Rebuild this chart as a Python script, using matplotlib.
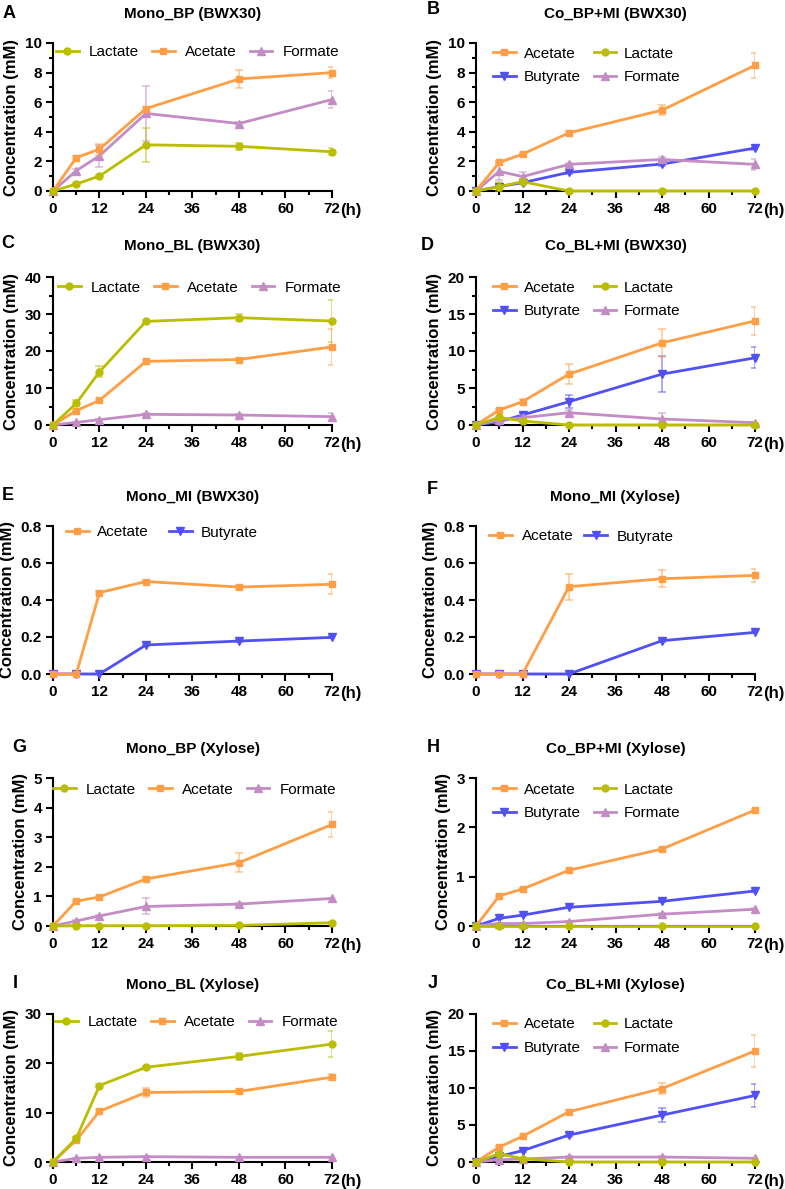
import matplotlib
matplotlib.use('Agg')
import matplotlib.pyplot as plt
from matplotlib.ticker import MultipleLocator

plt.rcParams['font.family'] = ['Liberation Sans', 'DejaVu Sans']

hours = [0, 6, 12, 24, 48, 72]

# A: Mono_BP (BWX30)
a_lactate = [0, 0.47, 1.01, 3.12, 3.02, 2.65]
a_lactate_err = [0, 0.08, 0.08, 1.17, 0.25, 0.25]
a_acetate = [0, 2.25, 2.83, 5.57, 7.57, 8.0]
a_acetate_err = [0, 0.1, 0.37, 0.1, 0.63, 0.38]
a_formate = [0, 1.37, 2.38, 5.24, 4.56, 6.18]
a_formate_err = [0, 0.15, 0.75, 1.84, 0.1, 0.58]

# B: Co_BP+MI (BWX30)
b_acetate = [0, 1.93, 2.49, 3.93, 5.46, 8.49]
b_acetate_err = [0, 0.1, 0.1, 0.15, 0.35, 0.84]
b_lactate = [0, 0.29, 0.63, 0, 0, 0]
b_lactate_err = [0, 0.3, 0.15, 0, 0, 0]
b_butyrate = [0, 0.3, 0.56, 1.26, 1.82, 2.9]
b_butyrate_err = [0, 0.1, 0.1, 0.1, 0.1, 0.1]
b_formate = [0, 1.33, 0.97, 1.8, 2.13, 1.8]
b_formate_err = [0, 0.6, 0.33, 0.1, 0.15, 0.35]

# C: Mono_BL (BWX30)
c_lactate = [0, 5.84, 14.4, 28.0, 29.0, 28.1]
c_lactate_err = [0, 0.8, 1.5, 0.3, 0.9, 5.6]
c_acetate = [0, 3.87, 6.65, 17.2, 17.7, 21.1]
c_acetate_err = [0, 0.3, 0.4, 0.5, 0.4, 4.8]
c_formate = [0, 0.7, 1.44, 2.88, 2.7, 2.25]
c_formate_err = [0, 0.1, 0.2, 0.3, 0.3, 1.0]

# D: Co_BL+MI (BWX30)
d_acetate = [0, 2.02, 3.15, 6.88, 11.1, 14.07]
d_acetate_err = [0, 0.2, 0.3, 1.4, 1.9, 1.9]
d_lactate = [0, 1.03, 0.54, 0, 0, 0]
d_lactate_err = [0, 0.1, 0.1, 0, 0, 0]
d_butyrate = [0, 0.45, 1.35, 3.15, 6.88, 9.08]
d_butyrate_err = [0, 0.1, 0.3, 0.85, 2.45, 1.4]
d_formate = [0, 0.67, 0.99, 1.66, 0.81, 0.31]
d_formate_err = [0, 0.1, 0.3, 0.4, 0.76, 0.1]

# E: Mono_MI (BWX30)
e_acetate = [0, 0, 0.44, 0.50, 0.47, 0.485]
e_acetate_err = [0, 0, 0.01, 0.01, 0.01, 0.055]
e_butyrate = [0, 0, 0, 0.157, 0.178, 0.198]
e_butyrate_err = [0, 0, 0, 0.005, 0.005, 0.005]

# F: Mono_MI (Xylose)
f_acetate = [0, 0, 0, 0.472, 0.515, 0.533]
f_acetate_err = [0, 0, 0, 0.07, 0.047, 0.035]
f_butyrate = [0, 0, 0, 0, 0.18, 0.225]
f_butyrate_err = [0, 0, 0, 0, 0.005, 0.005]

# G: Mono_BP (Xylose)
g_lactate = [0, 0.01, 0.01, 0.01, 0.02, 0.11]
g_lactate_err = [0, 0, 0, 0, 0, 0.02]
g_acetate = [0, 0.84, 0.98, 1.59, 2.14, 3.43]
g_acetate_err = [0, 0.03, 0.03, 0.08, 0.31, 0.43]
g_formate = [0, 0.17, 0.34, 0.66, 0.74, 0.93]
g_formate_err = [0, 0.02, 0.03, 0.27, 0.05, 0.03]

# H: Co_BP+MI (Xylose)
h_acetate = [0, 0.61, 0.75, 1.13, 1.56, 2.35]
h_acetate_err = [0, 0.02, 0.02, 0.02, 0.03, 0.03]
h_lactate = [0, 0, 0, 0, 0, 0]
h_lactate_err = [0, 0, 0, 0, 0, 0]
h_butyrate = [0, 0.155, 0.22, 0.38, 0.50, 0.71]
h_butyrate_err = [0, 0.01, 0.01, 0.01, 0.02, 0.02]
h_formate = [0, 0.05, 0.05, 0.09, 0.24, 0.34]
h_formate_err = [0, 0.01, 0.01, 0.01, 0.02, 0.02]

# I: Mono_BL (Xylose)
i_lactate = [0, 4.8, 15.5, 19.2, 21.4, 23.9]
i_lactate_err = [0, 0.3, 0.3, 0.3, 0.7, 2.7]
i_acetate = [0, 4.4, 10.3, 14.1, 14.3, 17.2]
i_acetate_err = [0, 0.3, 0.3, 0.9, 0.4, 0.6]
i_formate = [0, 0.75, 0.95, 1.08, 0.95, 0.95]
i_formate_err = [0, 0.05, 0.05, 0.05, 0.05, 0.05]

# J: Co_BL+MI (Xylose)
j_acetate = [0, 2.02, 3.46, 6.79, 9.93, 15.0]
j_acetate_err = [0, 0.2, 0.2, 0.2, 0.7, 2.1]
j_lactate = [0, 1.12, 0.45, 0, 0, 0]
j_lactate_err = [0, 0.1, 0.1, 0, 0, 0]
j_butyrate = [0, 0.76, 1.53, 3.64, 6.34, 8.99]
j_butyrate_err = [0, 0.1, 0.2, 0.2, 0.9, 1.6]
j_formate = [0, 0.3, 0.4, 0.67, 0.67, 0.5]
j_formate_err = [0, 0.1, 0.1, 0.2, 0.2, 0.1]

colors = {'Lactate': '#BABD00', 'Acetate': '#FF9E45',
          'Formate': '#C48CC4', 'Butyrate': '#5050F5'}
markers = {'Lactate': 'o', 'Acetate': 's', 'Formate': '^', 'Butyrate': 'v'}
msizes = {'Lactate': 5, 'Acetate': 5, 'Formate': 5.5, 'Butyrate': 5.5}
layer = {'Butyrate': 3, 'Formate': 4, 'Acetate': 5, 'Lactate': 6}

# letter, title, col, row, ymax, major, minor, series, ncol, legend (dx, dy px), colspacing, textpad
panels = [
    ('A', 'Mono_BP (BWX30)', 0, 0, 10, 2, 1,
     [('Lactate', a_lactate, a_lactate_err), ('Acetate', a_acetate, a_acetate_err),
      ('Formate', a_formate, a_formate_err)], 3, (3, 8), 0.85, 0.65),
    ('B', 'Co_BP+MI (BWX30)', 1, 0, 10, 2, 1,
     [('Acetate', b_acetate, b_acetate_err), ('Butyrate', b_butyrate, b_butyrate_err),
      ('Lactate', b_lactate, b_lactate_err), ('Formate', b_formate, b_formate_err)], 2, (17, 9), 0.85, 0.5),
    ('C', 'Mono_BL (BWX30)', 0, 1, 40, 10, 5,
     [('Lactate', c_lactate, c_lactate_err), ('Acetate', c_acetate, c_acetate_err),
      ('Formate', c_formate, c_formate_err)], 3, (5, 9), 0.85, 0.65),
    ('D', 'Co_BL+MI (BWX30)', 1, 1, 20, 5, 2.5,
     [('Acetate', d_acetate, d_acetate_err), ('Butyrate', d_butyrate, d_butyrate_err),
      ('Lactate', d_lactate, d_lactate_err), ('Formate', d_formate, d_formate_err)], 2, (17, 9), 0.85, 0.5),
    ('E', 'Mono_MI (BWX30)', 0, 2, 0.8, 0.2, None,
     [('Acetate', e_acetate, e_acetate_err), ('Butyrate', e_butyrate, e_butyrate_err)],
     2, (13, 5), 1.3, 0.55),
    ('F', 'Mono_MI (Xylose)', 1, 2, 0.8, 0.2, None,
     [('Acetate', f_acetate, f_acetate_err), ('Butyrate', f_butyrate, f_butyrate_err)],
     2, (13, 9), 0.7, 0.65),
    ('G', 'Mono_BP (Xylose)', 0, 3, 5, 1, None,
     [('Lactate', g_lactate, g_lactate_err), ('Acetate', g_acetate, g_acetate_err),
      ('Formate', g_formate, g_formate_err)], 3, (0, 10), 0.85, 0.65),
    ('H', 'Co_BP+MI (Xylose)', 1, 3, 3, 1, None,
     [('Acetate', h_acetate, h_acetate_err), ('Butyrate', h_butyrate, h_butyrate_err),
      ('Lactate', h_lactate, h_lactate_err), ('Formate', h_formate, h_formate_err)], 2, (17, 10), 0.85, 0.5),
    ('I', 'Mono_BL (Xylose)', 0, 4, 30, 10, None,
     [('Lactate', i_lactate, i_lactate_err), ('Acetate', i_acetate, i_acetate_err),
      ('Formate', i_formate, i_formate_err)], 3, (2, 7), 0.85, 0.65),
    ('J', 'Co_BL+MI (Xylose)', 1, 4, 20, 5, None,
     [('Acetate', j_acetate, j_acetate_err), ('Butyrate', j_butyrate, j_butyrate_err),
      ('Lactate', j_lactate, j_lactate_err), ('Formate', j_formate, j_formate_err)], 2, (17, 9), 0.85, 0.5),
]

W, H = 785, 1189
col_left = [53, 476]
row_top = [43, 277, 526, 778, 1014]
title_y = [14, 246, 497, 749, 985]
letter_pos = {'A': (3, 14), 'B': (427, 9), 'C': (1, 244), 'D': (421, 246), 'E': (2, 495),
              'F': (427, 489), 'G': (12, 747), 'H': (427, 747), 'I': (13, 984), 'J': (428, 984)}
ax_w, ax_h = 279, 148

fig = plt.figure(figsize=(W / 100, H / 100), dpi=100)

for letter, title, col, row, ymax, major, minor, series, ncol, (ldx, ldy), colsp, tpad in panels:
    x0, top = col_left[col], row_top[row]
    ax = fig.add_axes([x0 / W, 1 - (top + ax_h) / H, ax_w / W, ax_h / H])

    handles = {}
    for name, vals, errs in series:
        c = colors[name]
        ax.errorbar(hours, vals, yerr=errs, fmt='none', ecolor=c, alpha=0.6,
                    elinewidth=1.1, capsize=3, capthick=1.1, zorder=layer[name] - 0.5)
        ln, = ax.plot(hours, vals, color=c, lw=2, marker=markers[name],
                      ms=msizes[name], zorder=layer[name], clip_on=False)
        handles[name] = ln

    ax.set_xlim(0, 72)
    ax.set_ylim(0, ymax)
    ax.xaxis.set_major_locator(MultipleLocator(12))
    ax.xaxis.set_minor_locator(MultipleLocator(6))
    ax.yaxis.set_major_locator(MultipleLocator(major))
    if minor:
        ax.yaxis.set_minor_locator(MultipleLocator(minor))
    if ymax < 1:
        ax.yaxis.set_major_formatter(plt.FuncFormatter(lambda v, p: f'{v:.1f}'))

    for s in ['top', 'right']:
        ax.spines[s].set_visible(False)
    for s in ['left', 'bottom']:
        ax.spines[s].set_linewidth(1.5)
    ax.tick_params(which='major', length=5, width=1.5, labelsize=11, pad=3)
    ax.tick_params(which='minor', length=3, width=1.5)
    for lab in ax.get_xticklabels() + ax.get_yticklabels():
        lab.set_fontweight('bold')
    ax.set_ylabel('Concentration (mM)', fontsize=12, fontweight='bold', labelpad=4)
    ax.annotate('(h)', xy=(1, 0), xycoords='axes fraction', xytext=(6, -14),
                textcoords='offset points', ha='left', va='center',
                fontsize=12, fontweight='bold')

    names = [s[0] for s in series]
    ax.legend([handles[n] for n in names], names, loc='upper left', ncol=ncol,
              frameon=False, fontsize=11, borderpad=0, borderaxespad=0,
              handlelength=1.5, handletextpad=tpad, columnspacing=colsp,
              labelspacing=0.62,
              bbox_to_anchor=(ldx / ax_w, 1 - (ldy - 5.5) / ax_h))

    fig.text((x0 + ax_w / 2) / W, 1 - title_y[row] / H, title, ha='center', va='center',
             fontsize=11, fontweight='bold')
    lx, ly = letter_pos[letter]
    fig.text(lx / W, 1 - ly / H, letter, ha='left', va='center',
             fontsize=13, fontweight='bold')

fig.savefig('out.png', dpi=100)
